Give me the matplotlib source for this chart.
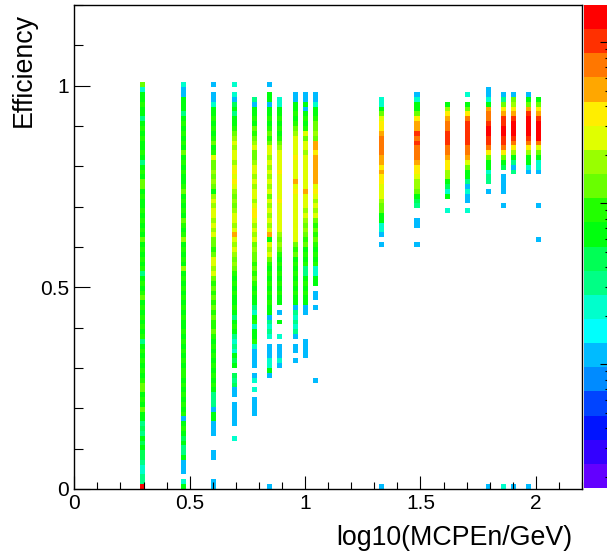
import colorsys

import numpy as np
import matplotlib
matplotlib.use("Agg")
import matplotlib.pyplot as plt
from matplotlib.colors import ListedColormap, LogNorm
from matplotlib.ticker import FixedLocator, MultipleLocator, NullFormatter

plt.rcParams["font.family"] = ["Liberation Sans", "DejaVu Sans"]

# x of every filled column: log10 of the MC energy
log_energy = [0.30, 0.47, 0.60, 0.69, 0.78, 0.85, 0.89, 0.96, 1.00, 1.04,
              1.33, 1.48, 1.62, 1.70, 1.79, 1.85, 1.90, 1.96, 2.01]

# one character per efficiency bin (bin width 0.012), from eff = 1.0 (bin 83) down to 0
# "." = empty, other characters = entries, see code_counts
cell_codes = [
    "7255655356" "5655653565" "7756556565" "6575656563" "5656756565"
    "6563565656" "5677565755" "3435454432" "233e",
    "2115553565" "6565756565" "5675656576" "5685656585" "6565656565"
    "5656565656" "6565656561" "5654533511" "1.25",
    "1.11255656" "5675697787" "8758989989" "8977679989" "7676767676"
    "6765656565" "6565333155" "111...11.." "..11",
    "2.21453556" "78989989a9" "a987878998" "9b98987876" "5656556535"
    "653232545." "43411.1111" "1..2",
    "...3155657" "6789778998" "989989aa98" "9897877676" "7656553256"
    "255621111." "12.2.1111.",
    "1.55155656" "7679989898" "9897989898" "9b59897656" "5656565513"
    "232.111225" "1........." ".........." "...1",
    "...2255656" "56789999a9" "9999a99999" "9878765656" "565655.1.5"
    "..2.11121.",
    "..11556567" "89999a9999" "b9a9999999" "9997675656" "5656551323"
    "231.11.1",
    "..11515656" "9799899999" "99b9998987" "8767565633" "56565511.."
    "...1111",
    "..11255677" "87bbabbbbb" "b9a9898976" "7676565622" "55.11.1..."
    ".........." ".1",
    "...22579aa" "bccccbbaba" "a999877552" "21.1......" ".........."
    ".........." ".........." ".........." "...1",
    "..12557abb" "dcdcccbaa9" "887543..11" "...1",
    "....58abcc" "dddccbaa88" "5425..2",
    "..2.57acdd" "dddccb9755" "31211.2",
    ".1125bccde" "eddca75523" "3.1......." ".........." ".........."
    ".........." ".........." ".........." "...1",
    "..137abdde" "eddca754.1" "111..1...." ".........." ".........."
    ".........." ".........." ".........." "...2",
    "..178abdee" "edca85313." ".........." ".........." ".........."
    ".........." ".........." ".........." "...1",
    "..157bdeee" "edca85521." ".........." ".........." ".........."
    ".........." ".........." ".........." "...1",
    "...57abdee" "eec975221." ".....1...." "..1",
]

code_counts = {"1": 1, "2": 2, "3": 3, "4": 4, "5": 6, "6": 9, "7": 13, "8": 18,
               "9": 25, "a": 36, "b": 50, "c": 70, "d": 100, "e": 140}

N_X, X_MAX = 100, 2.2
N_Y, Y_MAX = 100, 1.2
TOP_BIN = 83
Z_MIN, Z_MAX = 0.17, 170.0


def root_palette(ncont=20, ncolors=50):
    # old ROOT "pretty palette" sampled the way COLZ picks contour colours
    cols = []
    for k in range(ncont):
        p = int((k + 0.99) * ncolors / ncont)
        hue = 0.0 if p >= ncolors - 1 else 280 - (p + 1) * 280 / ncolors
        cols.append(colorsys.hls_to_rgb(hue / 360.0, 0.5, 1.0))
    return ListedColormap(cols)


def main() -> None:
    xs, ys, ws = [], [], []
    for x, codes in zip(log_energy, cell_codes):
        assert len(codes) <= TOP_BIN + 1, (x, len(codes))
        for i, c in enumerate(codes):
            if c == ".":
                continue
            xs.append(x)
            ys.append((TOP_BIN - i + 0.5) * Y_MAX / N_Y)
            ws.append(code_counts[c])

    W, H = 607, 556
    fig = plt.figure(figsize=(W / 100, H / 100), dpi=100)
    ax = fig.add_axes([74.3 / W, 67 / H, (582 - 74.3) / W, 484 / H])
    cax = fig.add_axes([583.5 / W, 68 / H, (608.5 - 583.5) / W, 483 / H])

    cmap = root_palette()
    h = ax.hist2d(xs, ys, bins=[N_X, N_Y], range=[[0, X_MAX], [0, Y_MAX]],
                  weights=ws, cmap=cmap, norm=LogNorm(Z_MIN, Z_MAX), cmin=0.5)

    ax.set_xlim(0, X_MAX)
    ax.set_ylim(0, Y_MAX)
    ax.set_xticks([0, 0.5, 1, 1.5, 2], ["0", "0.5", "1", "1.5", "2"])
    ax.set_yticks([0, 0.5, 1], ["0", "0.5", "1"])
    ax.xaxis.set_minor_locator(MultipleLocator(0.1))
    ax.yaxis.set_minor_locator(MultipleLocator(0.1))
    ax.tick_params(axis="both", which="both", direction="in", top=False, right=False,
                   labelsize=15, width=0.8, colors="black")
    ax.tick_params(axis="x", which="major", length=9.6, pad=3.6)
    ax.tick_params(axis="x", which="minor", length=5.2)
    ax.tick_params(axis="y", which="major", length=11.5, pad=3.8)
    ax.tick_params(axis="y", which="minor", length=6.2)
    for sp in ax.spines.values():
        sp.set_linewidth(1.0)

    cb = fig.colorbar(h[3], cax=cax)
    cb.outline.set_visible(False)
    cax.yaxis.set_ticks_position("right")
    cax.yaxis.set_major_locator(FixedLocator([1, 10, 100]))
    minors = [m * d for d in (0.1, 1, 10) for m in range(2, 10) if Z_MIN <= m * d <= Z_MAX]
    cax.yaxis.set_minor_locator(FixedLocator(minors))
    cax.yaxis.set_major_formatter(NullFormatter())
    cax.yaxis.set_minor_formatter(NullFormatter())
    cax.tick_params(which="both", direction="in", right=True, left=False,
                    labelright=False, width=0.8, colors="black")
    cax.tick_params(which="major", length=6.5)
    cax.tick_params(which="minor", length=2.6)

    fig.text(572 / W, 1 - 545 / H, "log10(MCPEn/GeV)", ha="right", va="baseline",
             fontsize=19.3)
    fig.text(30.5 / W, 1 - 13 / H, "Efficiency", rotation=90, rotation_mode="anchor",
             ha="right", va="baseline", fontsize=19.3)

    fig.savefig("out.png", dpi=100)


if __name__ == "__main__":
    main()
